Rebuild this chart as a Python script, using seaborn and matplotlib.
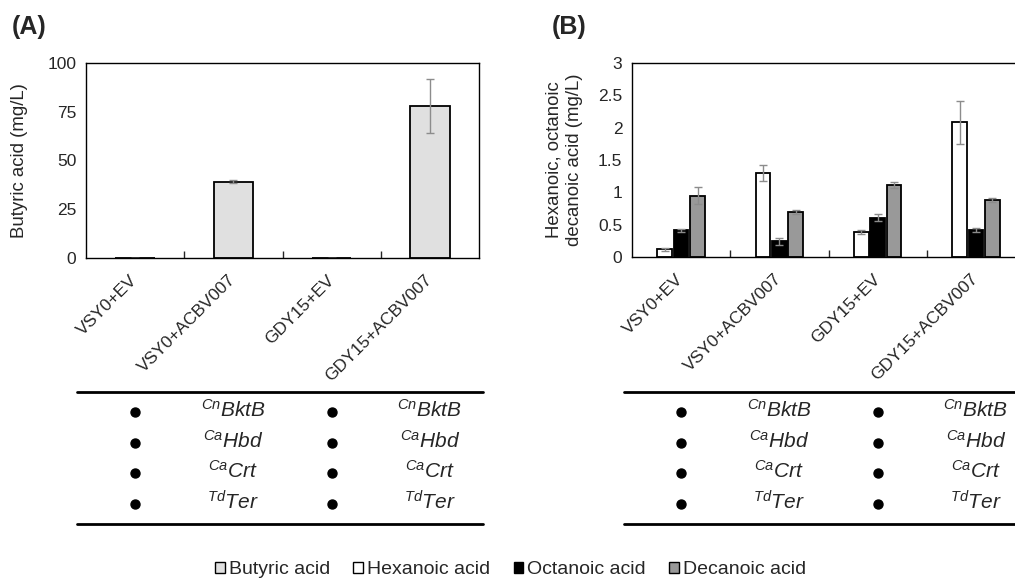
import pandas as pd
import matplotlib
matplotlib.use("Agg")
import matplotlib.pyplot as plt
from matplotlib.patches import Patch
import seaborn as sns

# ============================================
# Data
# ============================================
strains = ["VSY0+EV", "VSY0+ACBV007", "GDY15+EV", "GDY15+ACBV007"]

# Panel A - butyric acid (mg/L)
butyric = [0, 39.2, 0, 78]
butyric_err = [0, 0.6, 0, 14]

# Panel B - medium chain acids (mg/L)
acids_b = ["Hexanoic acid", "Octanoic acid", "Decanoic acid"]
hexanoic = [0.12, 1.30, 0.38, 2.08]
hexanoic_err = [0.02, 0.13, 0.03, 0.34]
octanoic = [0.41, 0.24, 0.61, 0.42]
octanoic_err = [0.03, 0.06, 0.05, 0.03]
decanoic = [0.95, 0.69, 1.11, 0.88]
decanoic_err = [0.13, 0.03, 0.05, 0.03]

# gene table under each panel
genes = ["BktB", "Hbd", "Crt", "Ter"]
gene_src = ["Cn", "Ca", "Ca", "Td"]
bullet_cols = [0, 2]
gene_cols = [1, 3]

colors = {
    "Butyric acid": "#e0e0e0",
    "Hexanoic acid": "#ffffff",
    "Octanoic acid": "#000000",
    "Decanoic acid": "#999999",
}

# long form table for seaborn
df_b = pd.DataFrame({
    "strain": strains * 3,
    "acid": [a for a in acids_b for _ in strains],
    "value": hexanoic + octanoic + decanoic,
    "err": hexanoic_err + octanoic_err + decanoic_err,
})

sns.set_style("white")
plt.rcParams["font.family"] = ["Liberation Sans", "DejaVu Sans"]
plt.rcParams["mathtext.fontset"] = "custom"
plt.rcParams["mathtext.rm"] = "Liberation Sans"
plt.rcParams["mathtext.it"] = "Liberation Sans:italic"

W, H = 1015, 582
fig = plt.figure(figsize=(W / 100, H / 100), dpi=100)


def px_box(x0, y0, x1, y1):
    return [x0 / W, 1 - y1 / H, (x1 - x0) / W, (y1 - y0) / H]


axA = fig.add_axes(px_box(86, 63, 479, 258))
axB = fig.add_axes(px_box(632, 63, 1025, 257))

# ---- Panel A
sns.barplot(x=strains, y=butyric, order=strains, color=colors["Butyric acid"],
            edgecolor="black", linewidth=1.3, width=0.4, ax=axA, errorbar=None)
axA.errorbar(range(len(strains)), butyric, yerr=butyric_err,
             fmt="none", ecolor="#8c8c8c", elinewidth=1, capsize=3, capthick=1)
axA.set_ylim(0, 100)
axA.set_yticks([0, 25, 50, 75, 100])
axA.set_ylabel("Butyric acid (mg/L)", fontsize=13.4)
axA.yaxis.set_label_coords(-0.148, 0.5)

# ---- Panel B
sns.barplot(data=df_b, x="strain", y="value", hue="acid", order=strains,
            hue_order=acids_b, palette=colors, edgecolor="black", linewidth=1.3,
            width=0.5, gap=0.1, ax=axB, errorbar=None, legend=False)
for cont, acid in zip(axB.containers, acids_b):
    sub = df_b[df_b["acid"] == acid]
    xs = [p.get_x() + p.get_width() / 2 for p in cont.patches]
    axB.errorbar(xs, sub["value"], yerr=sub["err"], fmt="none", ecolor="#8c8c8c",
                 elinewidth=1, capsize=3, capthick=1)
axB.set_ylim(0, 3)
axB.set_yticks([0, 0.5, 1, 1.5, 2, 2.5, 3])
axB.set_yticklabels(["0", "0.5", "1", "1.5", "2", "2.5", "3"])
axB.set_ylabel("Hexanoic, octanoic\ndecanoic acid (mg/L)", fontsize=13.4,
               linespacing=1.25)
axB.yaxis.set_label_coords(-0.125, 0.5)

for ax in (axA, axB):
    ax.set_xlim(-0.5, 3.5)
    ax.set_xlabel("")
    for s in ax.spines.values():
        s.set_visible(True)
        s.set_color("black")
        s.set_linewidth(1.0)
    ax.set_xticks(range(len(strains)))
    ax.set_xticklabels(strains, rotation=45, ha="right", va="center",
                       rotation_mode="anchor", fontsize=12.5)
    ax.set_xticks([0.5, 1.5, 2.5], minor=True)
    ax.tick_params(axis="x", which="major", length=0, pad=14)
    ax.tick_params(axis="x", which="minor", length=5, width=1, direction="in",
                   bottom=True)
    ax.tick_params(axis="y", length=0, pad=7, labelsize=12.5)

# ---- gene tables
for ax, xleft, xright in ((axA, -0.59, 3.54), (axB, -0.58, 3.7)):
    pos = ax.get_position()
    tab = fig.add_axes([pos.x0, 1 - 535 / H, pos.width, (535 - 380) / H])
    tab.set_xlim(-0.5, 3.5)
    tab.set_ylim(535, 380)
    tab.axis("off")
    tab.plot([xleft, xright], [392, 392], color="black", lw=2, clip_on=False)
    tab.plot([xleft, xright], [524, 524], color="black", lw=2, clip_on=False)
    for i, (g, src) in enumerate(zip(genes, gene_src)):
        y = 412 + 30.5 * i
        tab.scatter(bullet_cols, [y] * len(bullet_cols), s=42, color="black",
                    clip_on=False)
        for c in gene_cols:
            tab.text(c, y - 2, r"$^{\mathit{%s}}\mathit{%s}$" % (src, g), ha="center",
                     va="center", fontsize=15)

# ---- panel letters
fig.text(12 / W, 1 - 27 / H, "(A)", fontsize=18, fontweight="bold", va="center")
fig.text(552 / W, 1 - 27 / H, "(B)", fontsize=18, fontweight="bold", va="center")

# ---- shared legend
handles = [Patch(facecolor=colors[k], edgecolor="black", linewidth=1) for k in colors]
fig.legend(handles, list(colors), loc="center", bbox_to_anchor=(0.503, 1 - 570 / H),
           ncol=4, frameon=False, fontsize=14, handlelength=0.5, handleheight=0.5,
           handletextpad=0.2, columnspacing=1.2)

fig.savefig("out.png", dpi=100)
